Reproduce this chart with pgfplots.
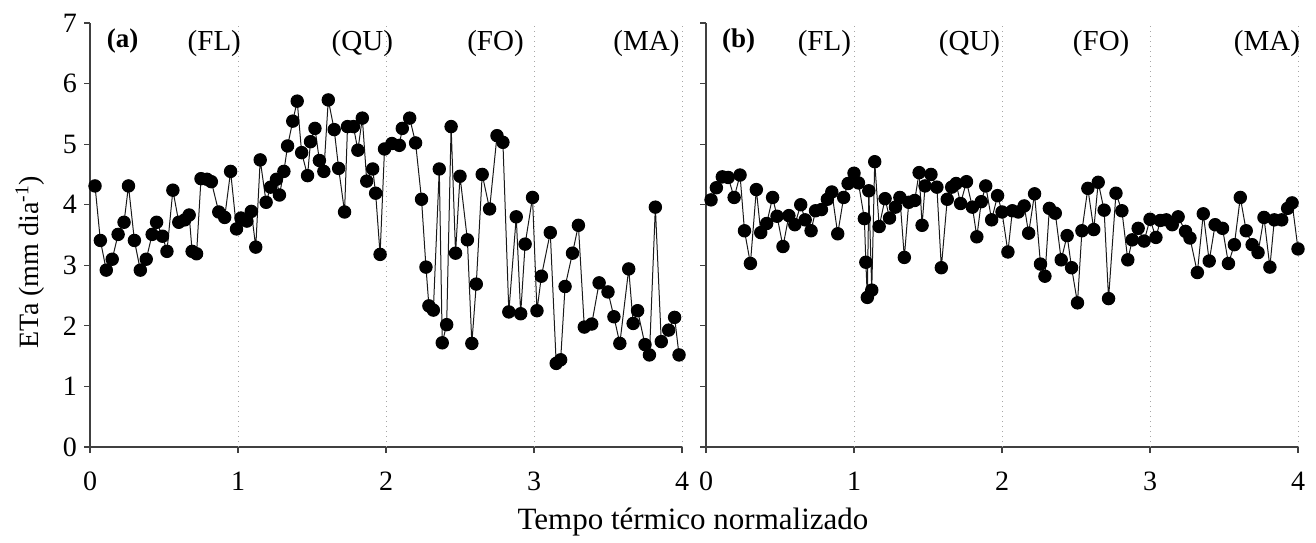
\documentclass[border=0pt]{standalone}
\usepackage{pgfplots}
\pgfplotsset{compat=1.18}
\usepackage{fontspec}
\setmainfont{Liberation Serif}
\begin{document}
\begin{tikzpicture}
\path[use as bounding box] (0,0) rectangle (658pt,271pt);
\tikzset{
  vgrid/.style={gray!70, dotted, line width=0.5pt},
  lab/.style={font=\fontsize{14.5}{16}\selectfont},
  blab/.style={font=\bfseries\fontsize{13.5}{15}\selectfont},
}
\pgfplotsset{
  myax/.style={
    scale only axis, width=296pt, height=212pt,
    xmin=0, xmax=4, ymin=0, ymax=7,
    axis x line*=bottom, axis y line*=left,
    axis line style={-, line width=0.6pt, color=black!75},
    xtick={0,1,2,3,4}, ytick={0,1,...,7},
    tick align=outside, major tick length=3pt,
    tick style={line width=0.6pt, color=black!75},
    /pgf/number format/assume math mode=true,
    ticklabel style={font=\fontsize{14}{16}\selectfont},
    xticklabel style={yshift=-6pt},
    clip=false,
  },
  ser/.style={black!90, line width=0.5pt, mark=*, mark size=3.1pt, mark options={fill=black, draw=black}},
}
% Panel (a)
\begin{axis}[myax, at={(45pt,47.5pt)}, anchor=south west]
\foreach \xx in {1,2,3,4} {\edef\tmp{\noexpand\draw[vgrid] (axis cs:\xx,0) -- (axis cs:\xx,7);}\tmp}
\addplot[ser] coordinates {
(0.034,4.31)(0.07,3.41)(0.11,2.92)(0.15,3.10)(0.19,3.51)(0.23,3.71)(0.26,4.31)(0.30,3.41)
(0.34,2.92)(0.38,3.10)(0.42,3.51)(0.45,3.71)(0.49,3.48)(0.52,3.23)(0.56,4.24)(0.60,3.71)
(0.64,3.75)(0.67,3.83)(0.69,3.23)(0.72,3.19)(0.75,4.43)(0.79,4.42)(0.82,4.38)(0.87,3.88)
(0.91,3.79)(0.95,4.55)(0.99,3.60)(1.02,3.78)(1.06,3.73)(1.09,3.89)(1.12,3.30)(1.15,4.74)
(1.19,4.04)(1.22,4.29)(1.26,4.42)(1.28,4.16)(1.31,4.55)(1.335,4.97)(1.37,5.38)(1.40,5.71)
(1.43,4.86)(1.47,4.48)(1.49,5.04)(1.52,5.26)(1.55,4.73)(1.58,4.55)(1.61,5.73)(1.65,5.24)
(1.68,4.60)(1.72,3.88)(1.74,5.29)(1.78,5.29)(1.81,4.90)(1.84,5.43)(1.87,4.39)(1.91,4.59)
(1.93,4.19)(1.96,3.18)(1.99,4.92)(2.04,5.01)(2.09,4.98)(2.11,5.26)(2.16,5.43)(2.20,5.02)
(2.24,4.09)(2.27,2.97)(2.29,2.33)(2.32,2.26)(2.36,4.59)(2.38,1.72)(2.41,2.02)(2.44,5.29)
(2.47,3.20)(2.50,4.47)(2.55,3.42)(2.58,1.71)(2.61,2.69)(2.65,4.50)(2.70,3.93)(2.75,5.14)
(2.79,5.03)(2.83,2.23)(2.88,3.80)(2.91,2.20)(2.94,3.35)(2.99,4.12)(3.02,2.25)(3.05,2.82)
(3.11,3.54)(3.15,1.38)(3.18,1.44)(3.21,2.65)(3.26,3.20)(3.30,3.66)(3.34,1.98)(3.39,2.03)
(3.44,2.71)(3.50,2.56)(3.54,2.15)(3.58,1.71)(3.64,2.94)(3.67,2.04)(3.70,2.25)(3.75,1.69)
(3.78,1.52)(3.82,3.96)(3.86,1.74)(3.91,1.93)(3.95,2.14)(3.98,1.52)
};
\node[blab] at (axis cs:0.22,6.7) {(a)};
\node[lab] at (axis cs:0.84,6.66) {(FL)};
\node[lab] at (axis cs:1.84,6.66) {(QU)};
\node[lab] at (axis cs:2.74,6.66) {(FO)};
\node[lab] at (axis cs:3.76,6.66) {(MA)};
\end{axis}
% Panel (b)
\begin{axis}[myax, at={(353pt,47.5pt)}, anchor=south west, yticklabels={}]
\foreach \xx in {1,2,3,4} {\edef\tmp{\noexpand\draw[vgrid] (axis cs:\xx,0) -- (axis cs:\xx,7);}\tmp}
\addplot[ser] coordinates {
(0.034,4.08)(0.07,4.28)(0.11,4.46)(0.15,4.45)(0.19,4.12)(0.23,4.49)(0.26,3.57)(0.30,3.03)
(0.34,4.25)(0.37,3.54)(0.41,3.69)(0.45,4.12)(0.48,3.81)(0.52,3.31)(0.56,3.82)(0.60,3.67)
(0.64,4.00)(0.67,3.75)(0.71,3.57)(0.74,3.90)(0.78,3.92)(0.82,4.09)(0.85,4.21)(0.89,3.52)
(0.93,4.12)(0.96,4.35)(1.00,4.52)(1.03,4.36)(1.07,3.77)(1.08,3.05)(1.09,2.47)(1.10,4.23)
(1.12,2.59)(1.14,4.71)(1.17,3.64)(1.21,4.10)(1.24,3.78)(1.28,3.96)(1.31,4.12)(1.34,3.13)
(1.37,4.04)(1.41,4.07)(1.44,4.53)(1.46,3.66)(1.48,4.31)(1.52,4.50)(1.56,4.29)(1.59,2.96)
(1.63,4.09)(1.66,4.29)(1.69,4.35)(1.72,4.02)(1.76,4.38)(1.80,3.96)(1.83,3.47)(1.86,4.05)
(1.89,4.31)(1.93,3.75)(1.97,4.15)(2.00,3.88)(2.04,3.22)(2.07,3.90)(2.11,3.88)(2.15,3.98)
(2.18,3.53)(2.22,4.18)(2.26,3.02)(2.29,2.82)(2.32,3.94)(2.36,3.86)(2.40,3.09)(2.44,3.49)
(2.47,2.96)(2.51,2.38)(2.54,3.57)(2.58,4.27)(2.62,3.59)(2.65,4.37)(2.69,3.91)(2.72,2.45)
(2.77,4.19)(2.81,3.90)(2.85,3.09)(2.88,3.42)(2.92,3.61)(2.96,3.40)(3.00,3.76)(3.04,3.46)
(3.07,3.74)(3.11,3.75)(3.15,3.67)(3.19,3.80)(3.24,3.56)(3.27,3.45)(3.32,2.88)(3.36,3.85)
(3.40,3.07)(3.44,3.67)(3.49,3.61)(3.53,3.03)(3.57,3.34)(3.61,4.12)(3.65,3.57)(3.69,3.34)
(3.73,3.21)(3.77,3.79)(3.81,2.97)(3.84,3.75)(3.89,3.75)(3.93,3.94)(3.96,4.03)(4.00,3.27)
};
\node[blab] at (axis cs:0.22,6.7) {(b)};
\node[lab] at (axis cs:0.80,6.66) {(FL)};
\node[lab] at (axis cs:1.78,6.66) {(QU)};
\node[lab] at (axis cs:2.67,6.66) {(FO)};
\node[lab] at (axis cs:3.79,6.66) {(MA)};
\end{axis}
\node[rotate=90, font=\fontsize{14}{16}\selectfont] at (15pt,140pt) {ETa (mm dia\textsuperscript{-1})};
\node[font=\fontsize{15.5}{17}\selectfont] at (346.5pt,10pt) {Tempo térmico normalizado};
\end{tikzpicture}
\end{document}
